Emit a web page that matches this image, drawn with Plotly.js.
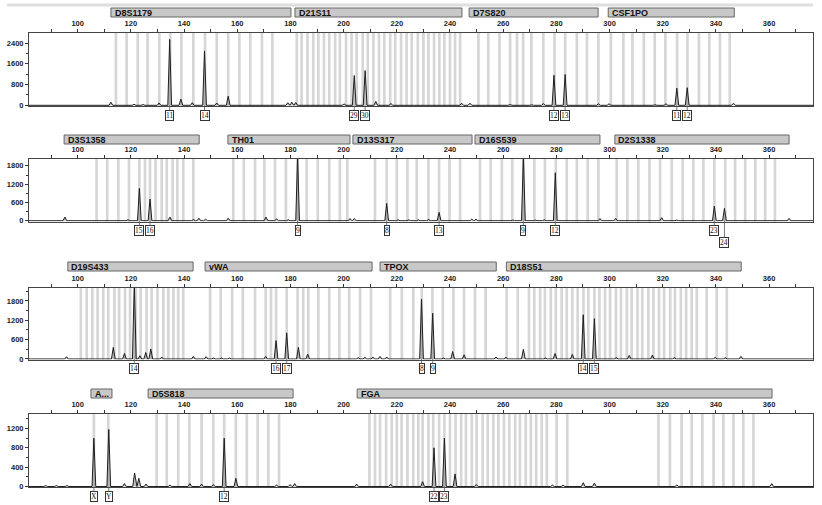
<!DOCTYPE html>
<html><head><meta charset="utf-8">
<script src="https://cdn.plot.ly/plotly-3.0.1.min.js"></script>
<style>html,body{margin:0;padding:0;background:#fff}#chart{width:822px;height:505px}</style>
</head><body><div id="chart"></div>
<script>
// ---------------- DATA ----------------
// Panel 1 (blue dye): D8S1179, D21S11, D7S820, CSF1PO
const peakPos1 = [112.5,121.2,124.6,130.6,134.6,138.8,143.1,147.7,152.3,156.6,179.0,180.5,182.0,200.2,204.0,208.1,212.1,217.8,244.4,247.5,258.2,262.6,270.7,275.1,279.1,283.3,295.8,299.8,317.1,321.2,325.3,329.2,346.6];
const peakHt1  = [120,40,30,90,2540,240,100,2100,90,350,100,120,110,50,1150,1340,150,70,80,80,20,30,20,70,1160,1190,60,60,20,60,660,680,80];
const alleleX1 = [134.6,147.7,204.0,208.1,279.1,283.3,325.3,329.2];
const alleleT1 = ['11','14','29','30','12','13','11','12'];
const locusName1 = ['D8S1179','D21S11','D7S820','CSF1PO'];
const locusFrom1 = [112.5,181.7,247.2,299.5];
const locusTo1   = [180.2,244.5,295.7,346.9];
const bins1 = [114.4,118.4,122.6,126.3,130.7,134.8,139,143.5,147.9,152.3,156.6,160.8,164.9,169.3,173.2,
  182.4,184.2,186.4,188.6,190.5,192.6,194.6,196.8,198.6,200.9,203.0,204.9,207.2,209.1,211.2,213.3,215.3,217.5,219.4,221.6,223.7,225.6,227.9,230,231.9,234,236,237.9,240,241.9,243.8,
  250.7,254.4,258.6,262.6,265.2,267.5,270.6,275.1,279.3,283.3,287.7,291.5,295.8,
  300.5,305.2,308.6,312.9,317,321,325.4,329.3,333.6,337.5,341.5,345.2];

// Panel 2 (green dye): D3S1358, TH01, D13S317, D16S539, D2S1338
const peakPos2 = [95.2,118.9,123.2,127.2,134.7,143.5,145.6,148.1,156.6,170.8,174.8,179.2,182.7,202.4,204.0,216.2,220.5,224.5,228.1,231.9,235.9,248.2,249.8,263.6,267.6,272.0,275.5,279.6,283.9,292.7,296.4,302.3,319.6,325.3,329.6,339.4,343.2,367.5];
const peakHt2  = [120,30,1060,710,120,40,80,50,80,120,60,30,2150,70,70,570,30,30,30,40,275,50,50,20,2150,20,30,1575,20,20,70,70,100,20,20,480,405,70];
const alleleX2 = [123.2,127.2,182.7,216.2,235.9,267.6,279.6,339.4,343.2];
const alleleT2 = ['15','16','9','8','13','9','12','23','24'];
const locusName2 = ['D3S1358','TH01','D13S317','D16S539','D2S1338'];
const locusFrom2 = [94.9,156.5,203.5,249.4,302.0];
const locusTo2   = [145.7,202.4,248.3,296.4,367.5];
const bins2 = [107.1,111.1,115.3,119.3,123.2,125.3,127.2,129.3,131.6,133.5,135.7,137.5,139.7,143.5,
  158.5,162.5,166.7,170.2,174.2,178.3,182.7,186.1,190.3,194.6,198.6,201.4,
  211.8,216.2,220,224,227.5,231.9,235.9,239.8,243.8,
  251.3,255.3,259.5,263.4,267.6,271.7,275.7,279.8,283.9,287.7,291.8,295.8,
  302.7,306.7,310.8,315,319,323.4,327.5,331.5,335.3,339.4,343.5,347.2,351,354.8,358.5,362.2];

// Panel 3 (yellow dye): D19S433, vWA, TPOX, D18S51
const peakPos3 = [85.9,95.8,113.4,117.6,121.3,123.4,125.6,127.5,131.6,136.0,143.5,148.3,151.0,154.0,157.0,170.7,174.6,178.6,183.0,186.5,205.5,208.0,211.0,213.7,216.2,229.3,233.5,237.5,241.0,245.3,257.3,261.0,267.6,275.8,279.5,286.0,290.1,294.3,298.0,302.5,307.4,316.1,324.4,339.7,343.5,349.4];
const peakHt3  = [20,70,360,170,2400,100,200,310,60,20,80,70,30,30,30,80,570,810,360,150,40,50,60,80,60,1860,1420,30,230,130,60,60,300,30,170,140,1370,1250,20,40,110,120,40,50,40,80];
const alleleX3 = [121.3,174.6,178.6,229.3,233.5,290.1,294.3];
const alleleT3 = ['14','16','17','8','9','14','15'];
const locusName3 = ['D19S433','vWA','TPOX','D18S51'];
const locusFrom3 = [96.3,147.9,213.7,261.2];
const locusTo3   = [143.4,210.7,257.4,349.5];
const bins3 = [101.2,103.4,105.5,107.5,109.6,111.5,113.8,115.6,117.8,119.7,121.8,123.7,125.9,127.8,130,132.2,134.1,136,137.8,139.7,
  149.8,153.8,158.1,162.1,166.7,170.7,172.7,174.6,178.6,182.7,184.8,186.7,190.5,194.6,198.4,202.1,206.2,210.3,
  217.5,221.9,226.2,229.4,233.4,237.3,241.3,245.3,249.4,253.4,
  261.3,265.5,269.7,271.7,273.9,275.7,277.9,279.8,282,283.9,286,288,290.2,292,294.3,296.2,298.3,300.2,302.4,304.3,306.5,308.3,310.5,312.3,314.6,316.5,318.6,320.5,322.8,324.6,326.8,328.8,330.9,332.8,336.5,340.3,344.1];

// Panel 4 (red dye): Amelogenin, D5S818, FGA
const peakPos4 = [88,92,96,106.1,111.7,117.6,121.4,123.0,125.7,134.7,142.2,146.6,151.0,155.1,159.5,174.8,179.9,181.6,204.9,217.7,229.7,234.0,237.9,241.9,249.9,278.5,282.5,290.1,294.3,325.3,361.0];
const peakHt4  = [20,20,20,1000,1180,60,280,170,50,30,60,50,40,1000,170,30,40,60,50,50,100,800,1000,260,40,30,30,80,70,30,60];
const alleleX4 = [106.1,111.7,155.1,234.0,237.9];
const alleleT4 = ['X','Y','12','22','23'];
const locusName4 = ['A...','D5S818','FGA'];
const locusFrom4 = [105.0,126.5,205.1];
const locusTo4   = [112.9,181.0,361.1];
const bins4 = [106.1,111.5,
  129.7,133.5,137.8,142,146.6,151,155.1,159.5,163.6,167.7,171.7,175.7,
  209.7,211.8,213.7,216,218.1,220,221.8,224,226.2,228.1,229.7,231.9,233.7,235.9,237.9,240,242.1,244.2,246,248.2,250.0,252.3,254.2,256.3,258.2,260.3,262.3,264.5,266.3,268.5,270.4,272.4,274.5,276.4,280.1,284.1,
  318.4,322.7,327.1,330.9,334.9,339.1,342.8,346.6,350.3,354.1];

// axis scales per panel
const yMax   = [2790, 2025, 2200, 1500];
const yMin   = [-27, -26, -16, -10];
const yMajor = [800, 600, 600, 400];
const yMinor = [400, 300, 300, 200];

// ---------------- LAYOUT / STYLE ----------------
const W = 822, H = 505;
const X_RANGE = [81.7, 376.5];
const PLOT_L = 29, PLOT_R = 813;
const plotTop = [33, 159, 288, 414];
const plotBot = [106, 221.5, 359.5, 487];
const barTop  = [8, 135, 262, 389];
const barBot  = [17, 144, 271, 398];
const labelOffset = [[10,10,10,10,10,10,10,10],[10,10,10,10,10,10,10,10,22],[10,10,10,10,10,10,10],[10,10,10,10,10]];
const PW = 0.7; // half width of drawn peak (bp)

const py = v => 1 - v / H;
const panels = [
  {pos:peakPos1, ht:peakHt1, ax:alleleX1, at:alleleT1, ln:locusName1, lf:locusFrom1, lt:locusTo1, bins:bins1},
  {pos:peakPos2, ht:peakHt2, ax:alleleX2, at:alleleT2, ln:locusName2, lf:locusFrom2, lt:locusTo2, bins:bins2},
  {pos:peakPos3, ht:peakHt3, ax:alleleX3, at:alleleT3, ln:locusName3, lf:locusFrom3, lt:locusTo3, bins:bins3},
  {pos:peakPos4, ht:peakHt4, ax:alleleX4, at:alleleT4, ln:locusName4, lf:locusFrom4, lt:locusTo4, bins:bins4}
];

const tickFont = {family:'Liberation Sans, Arial, sans-serif', size:7.5, color:'#222', weight:700};
const data = [], shapes = [], annotations = [];
const layout = {
  width:W, height:H, margin:{l:0,r:0,t:0,b:0},
  paper_bgcolor:'#fff', plot_bgcolor:'#fff', showlegend:false,
  shapes, annotations
};

// top light band
shapes.push({type:'rect', xref:'paper', yref:'paper', x0:7/W, x1:813/W, y0:py(6.5), y1:py(3.5),
  fillcolor:'#dedede', line:{width:0}, layer:'below'});

panels.forEach((p, i) => {
  const n = i + 1;
  const xa = 'x' + (n === 1 ? '' : n), ya = 'y' + (n === 1 ? '' : n);
  const xk = 'xaxis' + (n === 1 ? '' : n), yk = 'yaxis' + (n === 1 ? '' : n);
  // trace
  const xs = [X_RANGE[0]], ys = [0];
  p.pos.forEach((c, k) => { xs.push(c - PW, c, c + PW); ys.push(0, p.ht[k], 0); });
  xs.push(X_RANGE[1]); ys.push(0);
  data.push({type:'scatter', mode:'lines', x:xs, y:ys, xaxis:xa, yaxis:ya,
    line:{color:'#1e1e1e', width:1}, fill:'tozeroy', fillcolor:'rgba(140,140,140,0.55)', hoverinfo:'skip'});
  layout[xk] = {
    domain:[PLOT_L / W, PLOT_R / W], anchor:ya, side:'top', range:X_RANGE,
    tick0:0, dtick:20, ticks:'outside', ticklen:3, tickcolor:'#333', tickfont:tickFont,
    minor:{dtick:10, tick0:0, ticks:'outside', ticklen:3, tickcolor:'#333'},
    showline:true, mirror:true, linecolor:'#444', linewidth:1, showgrid:false, zeroline:false, fixedrange:true
  };
  layout[yk] = {
    domain:[py(plotBot[i]), py(plotTop[i])], anchor:xa, range:[yMin[i], yMax[i]],
    tick0:0, dtick:yMajor[i], ticks:'outside', ticklen:3, tickcolor:'#333', tickfont:tickFont,
    minor:{dtick:yMinor[i], tick0:0, ticks:'outside', ticklen:2, tickcolor:'#333'},
    showline:true, mirror:true, linecolor:'#444', linewidth:1, showgrid:false, zeroline:false, fixedrange:true
  };
  // bins
  p.bins.forEach(b => shapes.push({type:'rect', xref:xa, yref:ya + ' domain', x0:b - 0.5, x1:b + 0.5, y0:0, y1:1,
    fillcolor:'#d6d6d6', line:{width:0}, layer:'below'}));
  // locus bars
  p.ln.forEach((name, k) => {
    shapes.push({type:'rect', xref:xa, yref:'paper', x0:p.lf[k], x1:p.lt[k], y0:py(barBot[i]), y1:py(barTop[i]),
      fillcolor:'#c8c8c8', line:{color:'#666', width:1}, layer:'above'});
    annotations.push({xref:xa, yref:'paper', x:p.lf[k] + 0.6, y:py((barTop[i] + barBot[i]) / 2), text:name,
      showarrow:false, xanchor:'left', yanchor:'middle',
      font:{family:'Liberation Sans, Arial, sans-serif', size:9, color:'#111', weight:700}});
  });
  // allele call labels
  p.ax.forEach((c, k) => annotations.push({xref:xa, yref:ya, x:c, y:0, text:p.at[k],
    showarrow:true, arrowhead:0, arrowwidth:0.8, arrowcolor:'#555', ax:0, ay:labelOffset[i][k],
    bordercolor:'#333', borderwidth:1, borderpad:0, bgcolor:'#fff',
    font:{family:'Liberation Serif, Times New Roman, serif', size:7.5, color:'#111'}}));
});

Plotly.newPlot('chart', data, layout, {staticPlot:true, displayModeBar:false});
</script>
</body></html>
